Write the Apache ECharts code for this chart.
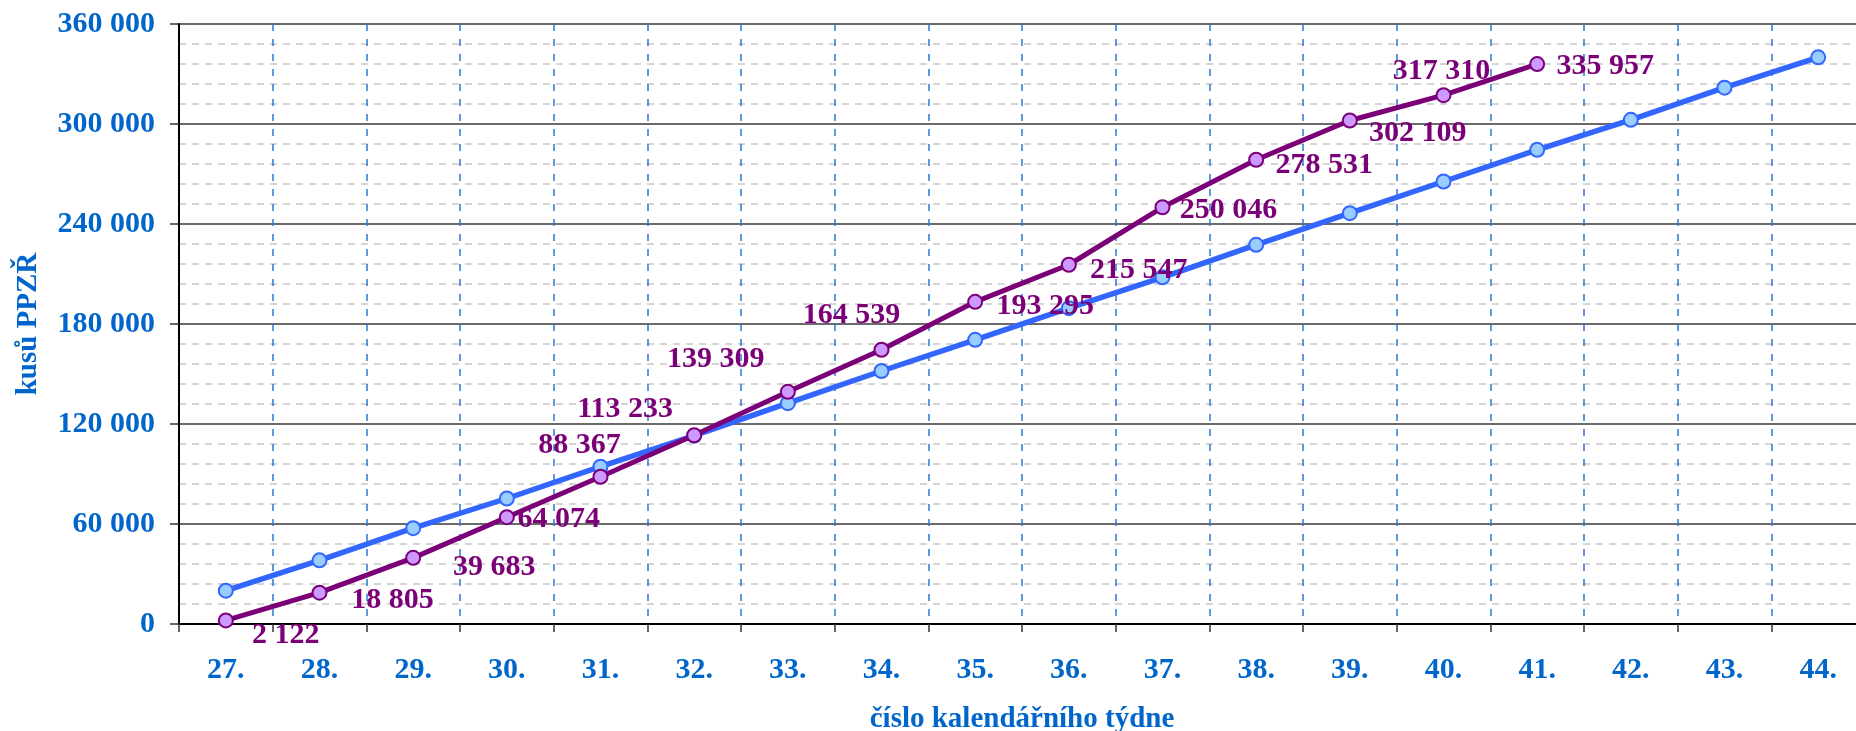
<!DOCTYPE html>
<html><head><meta charset="utf-8">
<script src="https://cdn.jsdelivr.net/npm/echarts@6/dist/echarts.min.js"></script>
<style>html,body{margin:0;padding:0;background:#fff}#c{width:1856px;height:731px}</style>
</head><body><div id="c"></div>
<script>
const weeks = ['27.','28.','29.','30.','31.','32.','33.','34.','35.','36.','37.','38.','39.','40.','41.','42.','43.','44.'];
const planValues = [20000,38200,57500,75300,94400,113000,132500,151800,170500,189500,208000,227500,246500,265500,284500,302500,321800,340000];
const actualValues = [2122,18805,39683,64074,88367,113233,139309,164539,193295,215547,250046,278531,302109,317310,335957];
const yTicks = [0,60000,120000,180000,240000,300000,360000];

// label offsets (styling only)
const labelOffsets = [[60,15],[73,8],[81,9],[52,2],[-21,-31],[-69,-26],[-72,-33],[-30,-35],[70,4],[70,5],[66,3],[68,5],[68,13],[-2,-24],[68,2]];

const fmt = v => {
  const s = String(Math.round(v));
  return s.replace(/\B(?=(\d{3})+(?!\d))/g, ' ');
};
const font = 'Liberation Serif';
const chart = echarts.init(document.getElementById('c'), null, {renderer:'canvas'});
chart.setOption({
  animation:false,
  grid:{left:179, right:-9, top:24, bottom:107, containLabel:false, outerBoundsMode:'none'},
  xAxis:{
    type:'category', data:weeks, boundaryGap:true,
    name:'číslo kalendářního týdne', nameLocation:'middle', nameGap:81,
    nameTextStyle:{color:'#0066cc', fontFamily:font, fontWeight:'bold', fontSize:29},
    axisLine:{lineStyle:{color:'#000', width:2}},
    axisTick:{show:true, length:8, lineStyle:{color:'#333', width:1.5}},
    axisLabel:{color:'#0066cc', fontFamily:font, fontWeight:'bold', fontSize:30, margin:31},
    splitLine:{show:true, interval:0, lineStyle:{color:'#2a78d6', type:[7,8], width:1.5}}
  },
  yAxis:{
    type:'value', min:0, max:360000, interval:60000,
    name:'kusů PPZŘ', nameLocation:'middle', nameGap:136, nameRotate:90, nameMoveOverlap:false,
    nameTextStyle:{color:'#0066cc', fontFamily:font, fontWeight:'bold', fontSize:29},
    axisLine:{show:true, lineStyle:{color:'#000', width:2}},
    axisTick:{show:true, length:9, lineStyle:{color:'#333', width:1.5}},
    axisLabel:{color:'#0066cc', fontFamily:font, fontWeight:'bold', fontSize:30, margin:24,
      align:'right', hideOverlap:false, formatter:v=>fmt(v)},
    splitLine:{show:true, lineStyle:{color:'#3a3a3a', width:1.5}},
    minorTick:{show:false, splitNumber:5},
    minorSplitLine:{show:true, lineStyle:{color:'#c8c8c8', type:[7,6], width:1.5}}
  },
  series:[
    {
      type:'line', data:planValues, z:2,
      lineStyle:{color:'#3366ff', width:5.5},
      symbol:'circle', symbolSize:14, showAllSymbol:true,
      itemStyle:{color:'#99ccff', borderColor:'#3366ff', borderWidth:2},
      label:{show:false}
    },
    {
      type:'line', z:3,
      data:actualValues.map((v,i)=>({value:v, label:{offset:labelOffsets[i]}})),
      lineStyle:{color:'#7b0078', width:5},
      symbol:'circle', symbolSize:14, showAllSymbol:true,
      itemStyle:{color:'#cc99ff', borderColor:'#7b0078', borderWidth:2},
      label:{show:true, position:'inside', align:'center', verticalAlign:'middle',
        color:'#7b0078', fontFamily:font, fontWeight:'bold', fontSize:30,
        formatter:p=>fmt(p.value)}
    }
  ]
});
</script></body></html>
